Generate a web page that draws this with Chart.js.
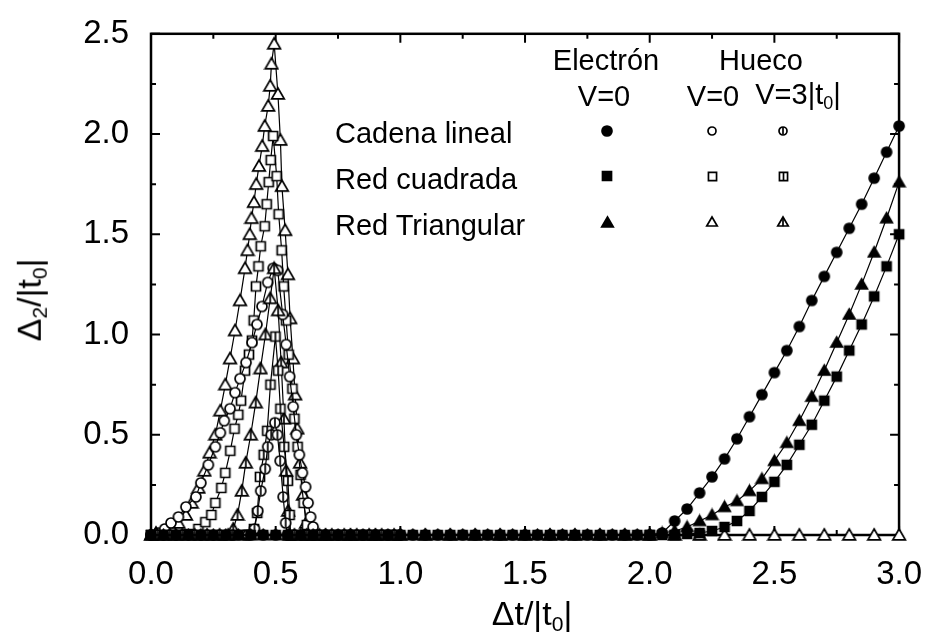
<!DOCTYPE html>
<html>
<head>
<meta charset="utf-8">
<script src="https://cdn.jsdelivr.net/npm/chart.js@4.4.1/dist/chart.umd.min.js"></script>
<style>
  html, body { margin: 0; padding: 0; background: #fff; }
  #wrap { position: relative; width: 934px; height: 641px; font-family: 'Liberation Sans', Arial, sans-serif; color: #000; }
  #grafico { position: absolute; left: 0; top: 0; }
  .txt { position: absolute; white-space: nowrap; transform: translate(-50%, -50%); line-height: 1; }
  .leg { font-size: 29px; }
  .tit { font-size: 34px; }
  .txt sub { font-size: 62%; vertical-align: -0.3em; }
  .left { transform: translate(0, -50%); }
</style>
</head>
<body>
<div id="wrap">
  <canvas id="grafico" width="934" height="641"></canvas>
  <div class="txt leg" style="left:606px; top:60px;">Electrón</div>
  <div class="txt leg" style="left:761px; top:60px;">Hueco</div>
  <div class="txt leg" style="left:604px; top:96px;">V=0</div>
  <div class="txt leg" style="left:713px; top:96px;">V=0</div>
  <div class="txt leg" style="left:798px; top:96px;">V=3|t<sub>0</sub>|</div>
  <div class="txt leg left" style="left:335px; top:133px;">Cadena lineal</div>
  <div class="txt leg left" style="left:335px; top:179px;">Red cuadrada</div>
  <div class="txt leg left" style="left:335px; top:225px;">Red Triangular</div>
  <div class="txt tit" style="left:532px; top:615px;">Δt/|t<sub>0</sub>|</div>
  <div class="txt tit" style="left:31px; top:300px; transform: translate(-50%, -50%) rotate(-90deg);">Δ<sub>2</sub>/|t<sub>0</sub>|</div>
</div>
<script>
// Ejes
const xTicks = [0.0, 0.5, 1.0, 1.5, 2.0, 2.5, 3.0];
const yTicks = [0.0, 0.5, 1.0, 1.5, 2.0, 2.5];

// Electrón, V=0 (símbolos llenos)
const xElec = [0.00,0.05,0.10,0.15,0.20,0.25,0.30,0.35,0.40,0.45,0.50,0.55,0.60,0.65,0.70,0.75,0.80,0.85,0.90,0.95,
  1.00,1.05,1.10,1.15,1.20,1.25,1.30,1.35,1.40,1.45,1.50,1.55,1.60,1.65,1.70,1.75,1.80,1.85,1.90,1.95,
  2.00,2.05,2.10,2.15,2.20,2.25,2.30,2.35,2.40,2.45,2.50,2.55,2.60,2.65,2.70,2.75,2.80,2.85,2.90,2.95,3.00];
const yCadenaElec = [0,0,0,0,0,0,0,0,0,0,0,0,0,0,0,0,0,0,0,0,0,0,0,0,0,0,0,0,0,0,0,0,0,0,0,0,0,0,0,0,0,
  0.01,0.07,0.13,0.21,0.29,0.38,0.48,0.59,0.70,0.81,0.92,1.04,1.17,1.29,1.41,1.53,1.65,1.78,1.91,2.04];
const yCuadradaElec = [0,0,0,0,0,0,0,0,0,0,0,0,0,0,0,0,0,0,0,0,0,0,0,0,0,0,0,0,0,0,0,0,0,0,0,0,0,0,0,0,0,
  0,0,0.005,0.01,0.02,0.04,0.07,0.12,0.19,0.265,0.35,0.45,0.55,0.67,0.79,0.92,1.05,1.19,1.34,1.50];
const yTriangElec = [0,0,0,0,0,0,0,0,0,0,0,0,0,0,0,0,0,0,0,0,0,0,0,0,0,0,0,0,0,0,0,0,0,0,0,0,0,0,0,0,0,
  0.01,0.02,0.04,0.07,0.10,0.14,0.17,0.22,0.28,0.37,0.46,0.57,0.69,0.82,0.96,1.10,1.25,1.41,1.58,1.76];

// Hueco, V=0 (símbolos abiertos)
const xCadenaH0 = [0.00,0.03,0.055,0.08,0.11,0.14,0.18,0.20,0.23,0.258,0.278,0.294,0.317,0.337,0.357,0.381,0.405,0.425,0.445,0.468,
  0.49,0.508,0.528,0.542,0.556,0.57,0.583,0.595,0.607,0.62,0.63,0.64,0.65,0.66,0.70,0.75,0.80,0.85,0.90,0.95,1.00];
const yCadenaH0 = [0,0.01,0.03,0.06,0.09,0.14,0.19,0.26,0.35,0.44,0.51,0.57,0.63,0.71,0.78,0.86,0.96,1.05,1.14,1.26,
  1.33,1.32,1.10,0.95,0.79,0.64,0.50,0.40,0.31,0.24,0.16,0.09,0.04,0,0,0,0,0,0,0,0];
const xCuadradaH0 = [0.00,0.05,0.10,0.15,0.19,0.218,0.242,0.258,0.282,0.298,0.318,0.335,0.35,0.361,0.377,0.393,0.405,0.412,0.421,0.431,
  0.44,0.456,0.464,0.472,0.48,0.49,0.504,0.512,0.524,0.532,0.542,0.552,0.567,0.575,0.588,0.60,0.612,0.625,0.635,
  0.675,0.725,0.775,0.825,0.875,0.925,0.975,2.00,2.10,2.20];
const yCuadradaH0 = [0,0,0,0.005,0.03,0.064,0.10,0.16,0.235,0.31,0.42,0.53,0.60,0.67,0.82,0.90,0.97,1.07,1.24,1.34,
  1.44,1.54,1.65,1.76,1.87,1.99,1.79,1.60,1.42,1.24,1.07,0.90,0.73,0.58,0.44,0.30,0.16,0.05,0,
  0,0,0,0,0,0,0,0,0,0];
const xTriangH0 = [0.00,0.02,0.05,0.08,0.11,0.14,0.163,0.19,0.214,0.235,0.258,0.278,0.298,0.317,0.337,0.357,0.377,0.387,0.396,0.403,
  0.413,0.422,0.433,0.446,0.456,0.47,0.478,0.483,0.494,0.509,0.519,0.525,0.538,0.549,0.558,0.569,0.578,0.587,0.598,0.61,0.622,0.632,
  0.70,0.80,0.90,1.00,1.10,1.20,1.30,1.40,1.50,1.60,1.70,1.80,1.90,2.00,2.10,2.20,2.30,2.40,2.50,2.60,2.70,2.80,2.90,3.00];
const yTriangH0 = [0,0.01,0.02,0.04,0.06,0.10,0.16,0.235,0.32,0.41,0.50,0.62,0.75,0.88,1.02,1.17,1.33,1.42,1.50,1.58,
  1.66,1.75,1.84,1.94,2.04,2.14,2.24,2.35,2.45,2.20,1.97,1.74,1.52,1.30,1.08,0.88,0.70,0.53,0.36,0.20,0.06,0,
  0,0,0,0,0,0,0,0,0,0,0,0,0,0,0,0,0,0,0,0,0,0,0,0];

// Hueco, V=3|t0| (símbolos con barra)
const xCadenaH3 = [0.025,0.075,0.125,0.175,0.225,0.275,0.325,0.375,0.39,0.415,0.428,0.44,0.458,0.468,0.482,0.497,0.507,0.518,0.53,0.54,0.547,
  0.575,0.625,0.675,0.725,0.775,0.825,0.875,0.925,0.975];
const yCadenaH3 = [0,0,0,0,0,0,0,0,0,0.03,0.12,0.22,0.33,0.44,0.50,0.56,0.50,0.37,0.19,0.06,0,
  0,0,0,0,0,0,0,0,0];
const xCuadradaH3 = [0.025,0.075,0.125,0.175,0.225,0.275,0.325,0.375,0.40,0.413,0.426,0.437,0.452,0.466,0.479,0.499,0.51,0.519,0.534,0.549,0.556,0.56,
  0.575,0.625,0.675,0.725,0.775,0.825,0.875,0.925,0.975];
const yCuadradaH3 = [0,0,0,0,0,0,0,0,0,0.03,0.11,0.29,0.40,0.52,0.75,0.99,0.82,0.63,0.44,0.27,0.10,0,
  0,0,0,0,0,0,0,0,0];
const xTriangH3 = [0.025,0.075,0.125,0.175,0.225,0.275,0.31,0.33,0.347,0.364,0.38,0.40,0.42,0.439,0.459,0.478,0.494,0.51,0.522,0.533,0.542,0.55,0.556,
  0.575,0.625,0.675,0.725,0.775,0.825,0.875,0.925,0.975];
const yTriangH3 = [0,0,0,0,0,0,0,0.03,0.10,0.22,0.36,0.50,0.66,0.83,1.00,1.18,1.33,1.12,0.86,0.58,0.32,0.12,0,
  0,0,0,0,0,0,0,0,0];

// Marcadores dibujados en un canvas pequeño
function marcador(forma, lleno, barra, tam) {
  const w = Math.ceil(tam + 4);
  const c = document.createElement('canvas');
  c.width = w; c.height = w;
  const g = c.getContext('2d');
  const m = w / 2, r = tam / 2;
  g.lineWidth = 1.7;
  g.strokeStyle = '#000';
  g.fillStyle = lleno ? '#000' : '#fff';
  g.beginPath();
  if (forma === 'circle') {
    g.arc(m, m, r, 0, Math.PI * 2);
  } else if (forma === 'rect') {
    g.rect(m - r * 0.9, m - r * 0.9, r * 1.8, r * 1.8);
  } else {
    g.moveTo(m, m - r);
    g.lineTo(m + r * 1.05, m + r * 0.8);
    g.lineTo(m - r * 1.05, m + r * 0.8);
    g.closePath();
  }
  g.fill();
  g.stroke();
  if (barra) {
    g.beginPath();
    g.moveTo(m, m - r);
    g.lineTo(m, m + r * 0.85);
    g.stroke();
  }
  return c;
}

function puntos(xs, ys) {
  return xs.map((x, i) => ({ x: x, y: ys[i] }));
}

function serie(nombre, xs, ys, estilo) {
  return {
    label: nombre,
    data: puntos(xs, ys),
    showLine: true,
    borderColor: '#000',
    borderWidth: 1.2,
    pointStyle: estilo,
    pointRadius: 5,
    clip: false
  };
}

const datasets = [
  serie('Cadena lineal, electrón', xElec, yCadenaElec, marcador('circle', true, false, 10)),
  serie('Red cuadrada, electrón', xElec, yCuadradaElec, marcador('rect', true, false, 10)),
  serie('Red triangular, electrón', xElec, yTriangElec, marcador('triangle', true, false, 11)),
  serie('Cadena lineal, hueco V=3', xCadenaH3, yCadenaH3, marcador('circle', false, true, 10)),
  serie('Red cuadrada, hueco V=3', xCuadradaH3, yCuadradaH3, marcador('rect', false, true, 10)),
  serie('Red triangular, hueco V=3', xTriangH3, yTriangH3, marcador('triangle', false, true, 12)),
  serie('Cadena lineal, hueco V=0', xCadenaH0, yCadenaH0, marcador('circle', false, false, 10)),
  serie('Red cuadrada, hueco V=0', xCuadradaH0, yCuadradaH0, marcador('rect', false, false, 10)),
  serie('Red triangular, hueco V=0', xTriangH0, yTriangH0, marcador('triangle', false, false, 12))
];

// Símbolos de la leyenda
const simbolosLeyenda = [
  { x: 607, y: 131, img: marcador('circle', true, false, 10) },
  { x: 607, y: 176, img: marcador('rect', true, false, 10) },
  { x: 607, y: 222, img: marcador('triangle', true, false, 11) },
  { x: 712, y: 131, img: marcador('circle', false, false, 8) },
  { x: 712, y: 176, img: marcador('rect', false, false, 9) },
  { x: 712, y: 222, img: marcador('triangle', false, false, 10) },
  { x: 783, y: 131, img: marcador('circle', false, true, 8) },
  { x: 783, y: 176, img: marcador('rect', false, true, 9) },
  { x: 783, y: 222, img: marcador('triangle', false, true, 10) }
];

// Marco y marcas hacia adentro en los cuatro lados
const marcoPlugin = {
  id: 'marco',
  beforeDatasetsDraw(chart) {
    const { ctx, chartArea: a, scales } = chart;
    ctx.save();
    ctx.strokeStyle = '#000';
    ctx.lineWidth = 2.5;
    ctx.strokeRect(a.left, a.top, a.right - a.left, a.bottom - a.top);
    ctx.lineWidth = 2;
    ctx.beginPath();
    for (let i = 0; i < xTicks.length; i++) {
      const vals = [[xTicks[i], 9]];
      if (i < xTicks.length - 1) vals.push([(xTicks[i] + xTicks[i + 1]) / 2, 5]);
      vals.forEach(([v, l]) => {
        const px = scales.x.getPixelForValue(v);
        ctx.moveTo(px, a.bottom); ctx.lineTo(px, a.bottom - l);
        ctx.moveTo(px, a.top); ctx.lineTo(px, a.top + l);
      });
    }
    for (let i = 0; i < yTicks.length; i++) {
      const vals = [[yTicks[i], 9]];
      if (i < yTicks.length - 1) vals.push([(yTicks[i] + yTicks[i + 1]) / 2, 5]);
      vals.forEach(([v, l]) => {
        const py = scales.y.getPixelForValue(v);
        ctx.moveTo(a.left, py); ctx.lineTo(a.left + l, py);
        ctx.moveTo(a.right, py); ctx.lineTo(a.right - l, py);
      });
    }
    ctx.stroke();
    ctx.restore();
  },
  afterDraw(chart) {
    const ctx = chart.ctx;
    simbolosLeyenda.forEach(s => {
      ctx.drawImage(s.img, Math.round(s.x - s.img.width / 2), Math.round(s.y - s.img.height / 2));
    });
  }
};

const fuenteTicks = { family: "'Liberation Sans', Arial, sans-serif", size: 33 };

new Chart(document.getElementById('grafico'), {
  type: 'scatter',
  data: { datasets: datasets },
  options: {
    responsive: false,
    animation: false,
    devicePixelRatio: 1,
    layout: { autoPadding: false, padding: { top: 28, right: 26, bottom: 0, left: 0 } },
    plugins: { legend: { display: false }, tooltip: { enabled: false } },
    scales: {
      x: {
        type: 'linear', min: 0, max: 3,
        grid: { display: false },
        border: { display: false },
        afterBuildTicks: s => { s.ticks = xTicks.map(v => ({ value: v })); },
        afterFit: s => { s.height = 106; },
        ticks: { color: '#000', font: fuenteTicks, padding: 12, maxRotation: 0, callback: v => v.toFixed(1) }
      },
      y: {
        type: 'linear', min: 0, max: 2.5,
        grid: { display: false },
        border: { display: false },
        afterBuildTicks: s => { s.ticks = yTicks.map(v => ({ value: v })); },
        afterFit: s => { s.width = 151; },
        ticks: { color: '#000', font: fuenteTicks, padding: 14, callback: v => v.toFixed(1) }
      }
    }
  },
  plugins: [marcoPlugin]
});
</script>
</body>
</html>
